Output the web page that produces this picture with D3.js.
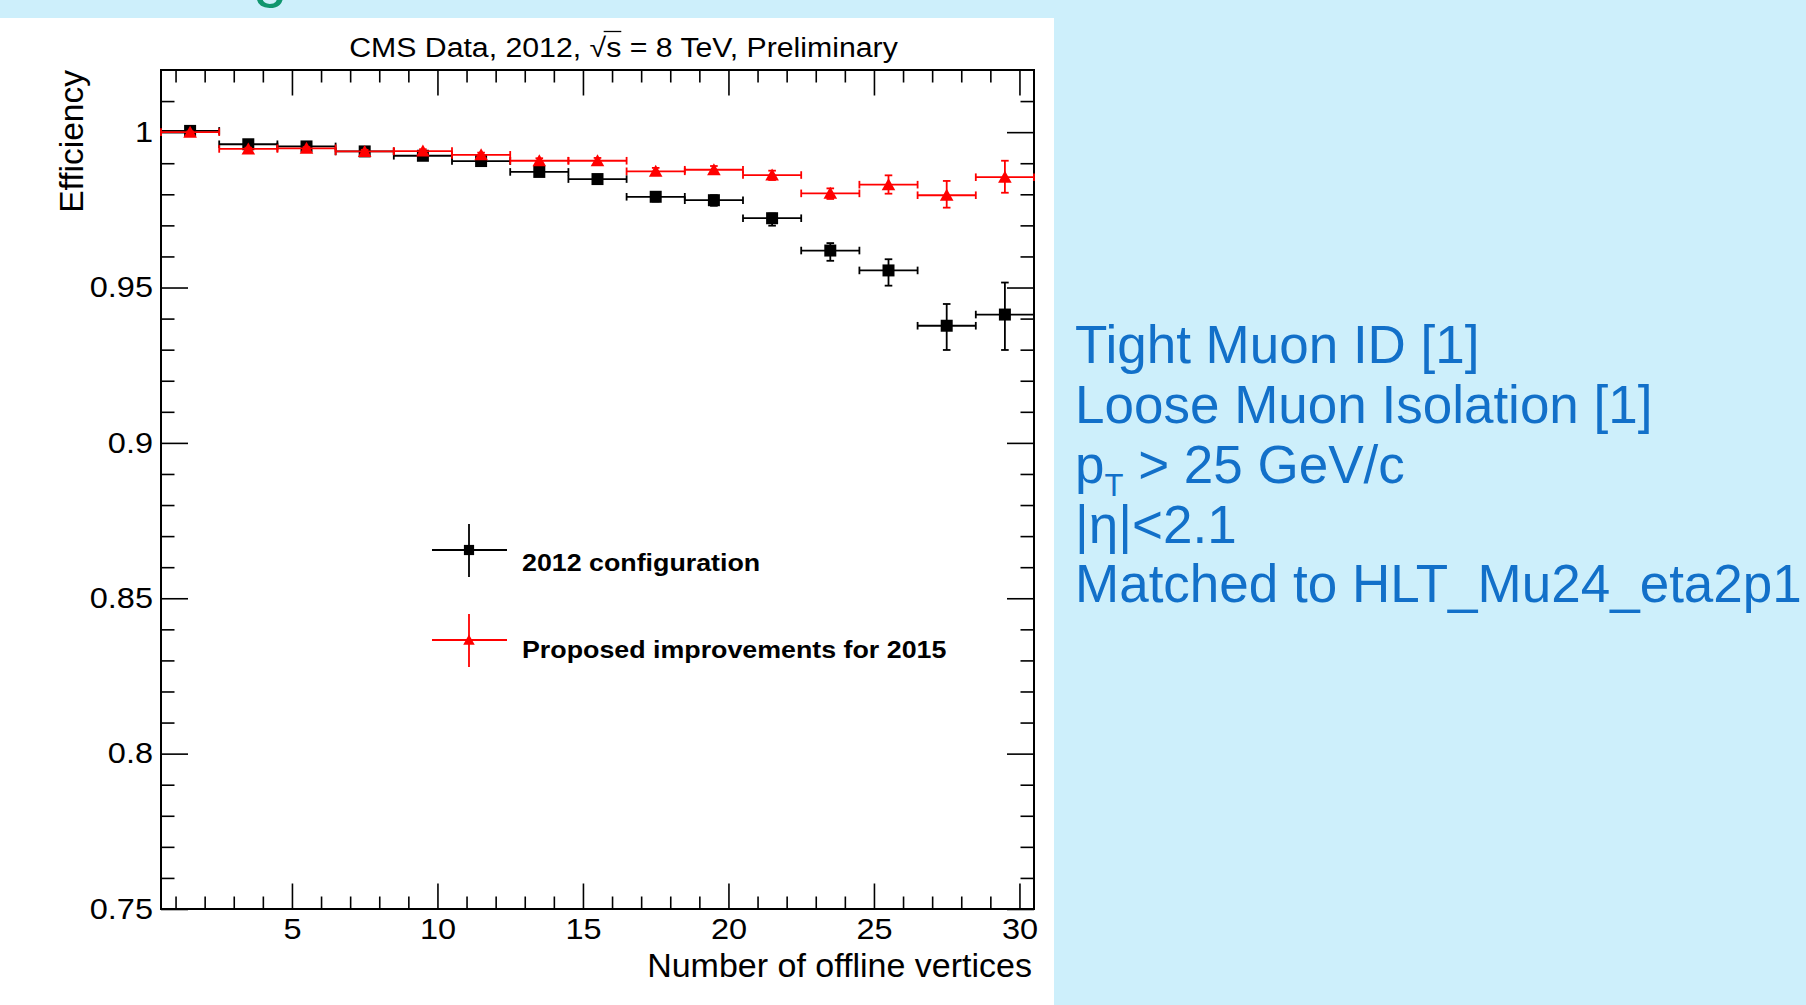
<!DOCTYPE html>
<html>
<head>
<meta charset="utf-8">
<title>Muon efficiency vs number of offline vertices</title>
<script src="https://cdn.jsdelivr.net/npm/d3@7"></script>
<style>
  body { margin: 0; background: #cdeffb; }
  text { font-family: "Liberation Sans", Arial, Helvetica, sans-serif; }
</style>
</head>
<body>
<script>
var width = 1806;
var height = 1005;

// bins of offline vertices (centres, each bin is 2 wide)
var binCenters = [1.5, 3.5, 5.5, 7.5, 9.5, 11.5, 13.5, 15.5, 17.5, 19.5, 21.5, 23.5, 25.5, 27.5, 29.5];
var binHalfWidth = 1;

// 2012 configuration (black squares)
var eff2012     = [1.0004, 0.9961, 0.9954, 0.9938, 0.9924, 0.9907, 0.9872, 0.9849, 0.9792, 0.9781, 0.9723, 0.9619, 0.9555, 0.9377, 0.9413];
var errUp2012   = [0.0003, 0.0005, 0.0005, 0.0006, 0.0007, 0.0008, 0.0010, 0.0012, 0.0014, 0.0016, 0.0015, 0.0024, 0.0036, 0.0070, 0.0103];
var errDown2012 = [0.0004, 0.0006, 0.0006, 0.0007, 0.0008, 0.0009, 0.0011, 0.0013, 0.0015, 0.0018, 0.0024, 0.0033, 0.0049, 0.0078, 0.0114];

// proposed improvements for 2015 (red triangles)
var eff2015     = [1.0000, 0.9946, 0.9948, 0.9938, 0.9939, 0.9927, 0.9908, 0.9908, 0.9874, 0.9879, 0.9862, 0.9803, 0.9831, 0.9797, 0.9855];
var errUp2015   = [0.0002, 0.0004, 0.0004, 0.0005, 0.0006, 0.0007, 0.0008, 0.0009, 0.0011, 0.0012, 0.0014, 0.0016, 0.0030, 0.0046, 0.0053];
var errDown2015 = [0.0003, 0.0005, 0.0005, 0.0006, 0.0007, 0.0008, 0.0009, 0.0010, 0.0012, 0.0014, 0.0016, 0.0018, 0.0029, 0.0040, 0.0050];

// axes
var xMajorTicks = [5, 10, 15, 20, 25, 30];
var xMinorTicks = [1, 2, 3, 4, 6, 7, 8, 9, 11, 12, 13, 14, 16, 17, 18, 19, 21, 22, 23, 24, 26, 27, 28, 29];
var yMajorTicks = [0.75, 0.8, 0.85, 0.9, 0.95, 1];
var yTickLabels = ["0.75", "0.8", "0.85", "0.9", "0.95", "1"];
var yMinorTicks = [0.76, 0.77, 0.78, 0.79, 0.81, 0.82, 0.83, 0.84, 0.86, 0.87, 0.88, 0.89, 0.91, 0.92, 0.93, 0.94, 0.96, 0.97, 0.98, 0.99, 1.01];

var legendLabels = ["2012 configuration", "Proposed improvements for 2015"];
// selection text on the right; a three-part line has a subscript in the middle
var cutLines = [
    ["Tight Muon ID [1]"],
    ["Loose Muon Isolation [1]"],
    ["p", "T", " > 25 GeV/c"],
    ["|\u03b7|<2.1"],
    ["Matched to HLT_Mu24_eta2p1"]
];

var frame = { left: 161, right: 1034, top: 70, bottom: 909 };

var svg = d3.select("body").append("svg")
    .attr("width", width).attr("height", height)
    .style("display", "block");

// slide background
svg.append("rect").attr("width", width).attr("height", height).attr("fill", "#cdeffb");
// descender of the cut-off slide heading
svg.append("text").attr("x", 253).attr("y", -5.5)
    .attr("font-size", 62).attr("fill", "#10966e").text("g");
// white plot canvas
svg.append("rect").attr("x", 0).attr("y", 18).attr("width", 1054).attr("height", height - 18).attr("fill", "#ffffff");

// stretch text horizontally (the pasted ROOT picture is a bit wider than normal)
function stretch(sel, k) {
    sel.each(function () {
        var w = this.getComputedTextLength();
        d3.select(this).attr("textLength", w * k).attr("lengthAdjust", "spacingAndGlyphs");
    });
}

var x = d3.scaleLinear().domain([0.5, 30.5]).range([frame.left, frame.right]);
var y = d3.scaleLinear().domain([0.75, 1.02]).range([frame.bottom, frame.top]);

// ---- axes (ticks inside the frame, on all four sides)
function axisGroup(axis, tx, ty, keepText) {
    var g = svg.append("g").attr("transform", "translate(" + tx + "," + ty + ")").call(axis);
    g.select(".domain").remove();
    g.selectAll("line").attr("stroke", "#000").attr("stroke-width", 1.6);
    if (!keepText) g.selectAll("text").remove();
    g.attr("font-family", null);
    return g;
}

var gxb = axisGroup(d3.axisBottom(x).tickValues(xMajorTicks).tickSizeInner(-25.5).tickSizeOuter(0)
    .tickPadding(9).tickFormat(d3.format("d")), 0, frame.bottom, true);
axisGroup(d3.axisBottom(x).tickValues(xMinorTicks).tickSizeInner(-12.5).tickSizeOuter(0), 0, frame.bottom);
axisGroup(d3.axisTop(x).tickValues(xMajorTicks).tickSizeInner(-25.5).tickSizeOuter(0), 0, frame.top);
axisGroup(d3.axisTop(x).tickValues(xMinorTicks).tickSizeInner(-12.5).tickSizeOuter(0), 0, frame.top);

var gyl = axisGroup(d3.axisLeft(y).tickValues(yMajorTicks).tickSizeInner(-27).tickSizeOuter(0)
    .tickPadding(8).tickFormat(function (d, i) { return yTickLabels[i]; }), frame.left, 0, true);
axisGroup(d3.axisLeft(y).tickValues(yMinorTicks).tickSizeInner(-13.5).tickSizeOuter(0), frame.left, 0);
axisGroup(d3.axisRight(y).tickValues(yMajorTicks).tickSizeInner(-27).tickSizeOuter(0), frame.right, 0);
axisGroup(d3.axisRight(y).tickValues(yMinorTicks).tickSizeInner(-13.5).tickSizeOuter(0), frame.right, 0);

gxb.selectAll("text").attr("font-size", 29).attr("fill", "#000");
gyl.selectAll("text").attr("font-size", 29).attr("fill", "#000");
stretch(gxb.selectAll("text"), 1.12);
stretch(gyl.selectAll("text"), 1.12);

// frame
svg.append("rect")
    .attr("x", frame.left).attr("y", frame.top)
    .attr("width", frame.right - frame.left).attr("height", frame.bottom - frame.top)
    .attr("fill", "none").attr("stroke", "#000").attr("stroke-width", 2);

// axis titles
svg.append("text").attr("x", 1032).attr("y", 977).attr("text-anchor", "end")
    .attr("font-size", 34).text("Number of offline vertices");
svg.append("text").attr("transform", "translate(83," + frame.top + ") rotate(-90)")
    .attr("text-anchor", "end").attr("font-size", 33.5).text("Efficiency");

// title with sqrt(s)
var title = svg.append("text").attr("x", 623.5).attr("y", 57).attr("text-anchor", "middle")
    .attr("font-size", 27).text("CMS Data, 2012, \u221As = 8 TeV, Preliminary");
stretch(title, 1.12);
(function () {
    var n = title.node();
    var r = n.getExtentOfChar(16), s = n.getExtentOfChar(17);
    svg.append("line")
        .attr("x1", r.x + r.width * 0.85).attr("x2", s.x + s.width)
        .attr("y1", 57 - 25.5).attr("y2", 57 - 25.5)
        .attr("stroke", "#000").attr("stroke-width", 1.3);
})();

// ---- data points with asymmetric errors
var capHalf = 3.8;
function drawSeries(vals, up, down, color, markerPath) {
    var pts = binCenters.map(function (c, i) {
        return { c: c, v: vals[i], up: up[i], down: down[i] };
    });
    var g = svg.append("g").attr("stroke", color).attr("stroke-width", 1.8).attr("fill", "none");
    var p = g.selectAll("g").data(pts).enter().append("g");
    // horizontal bin-width bars and caps
    p.append("line")
        .attr("x1", function (d) { return x(d.c - binHalfWidth); })
        .attr("x2", function (d) { return x(d.c + binHalfWidth); })
        .attr("y1", function (d) { return y(d.v); })
        .attr("y2", function (d) { return y(d.v); });
    [-1, 1].forEach(function (side) {
        p.append("line")
            .attr("x1", function (d) { return x(d.c + side * binHalfWidth); })
            .attr("x2", function (d) { return x(d.c + side * binHalfWidth); })
            .attr("y1", function (d) { return y(d.v) - capHalf; })
            .attr("y2", function (d) { return y(d.v) + capHalf; });
    });
    // vertical error bars and caps
    p.append("line")
        .attr("x1", function (d) { return x(d.c); })
        .attr("x2", function (d) { return x(d.c); })
        .attr("y1", function (d) { return y(d.v + d.up); })
        .attr("y2", function (d) { return y(d.v - d.down); });
    p.append("line")
        .attr("x1", function (d) { return x(d.c) - capHalf; })
        .attr("x2", function (d) { return x(d.c) + capHalf; })
        .attr("y1", function (d) { return y(d.v + d.up); })
        .attr("y2", function (d) { return y(d.v + d.up); });
    p.append("line")
        .attr("x1", function (d) { return x(d.c) - capHalf; })
        .attr("x2", function (d) { return x(d.c) + capHalf; })
        .attr("y1", function (d) { return y(d.v - d.down); })
        .attr("y2", function (d) { return y(d.v - d.down); });
    // markers
    svg.append("g").selectAll("path").data(pts).enter().append("path")
        .attr("d", markerPath)
        .attr("transform", function (d) { return "translate(" + x(d.c) + "," + y(d.v) + ")"; })
        .attr("fill", color);
}

var squarePath = "M-6,-6H6V6H-6Z";
var trianglePath = "M0,-6.5L6.8,5.5H-6.8Z";

drawSeries(eff2012, errUp2012, errDown2012, "#000000", squarePath);
drawSeries(eff2015, errUp2015, errDown2015, "#ff0000", trianglePath);

// ---- legend
var legendColors = ["#000000", "#ff0000"];
var legendMarkers = [squarePath, trianglePath];
var legendRowY = [550, 640];
var legendTextDy = [21, 18];
legendLabels.forEach(function (lab, i) {
    var cx = 469, cy = legendRowY[i];
    var g = svg.append("g");
    g.append("line").attr("x1", cx - 37).attr("x2", cx + 38).attr("y1", cy).attr("y2", cy)
        .attr("stroke", legendColors[i]).attr("stroke-width", 1.8);
    g.append("line").attr("x1", cx).attr("x2", cx).attr("y1", cy - 26).attr("y2", cy + 27)
        .attr("stroke", legendColors[i]).attr("stroke-width", 1.8);
    g.append("path").attr("d", legendMarkers[i]).attr("transform", "translate(" + cx + "," + cy + ") scale(0.85)")
        .attr("fill", legendColors[i]);
    var t = g.append("text").attr("x", 522).attr("y", cy + legendTextDy[i])
        .attr("font-size", 23.3).attr("font-weight", "bold").text(lab);
    stretch(t, 1.15);
});

// ---- selection text on the right
var cutText = svg.append("g").attr("fill", "#1270c9").attr("font-size", 53);
cutLines.forEach(function (parts, i) {
    var t = cutText.append("text").attr("x", 1075).attr("y", 363.3 + i * 59.75);
    if (parts.length === 3) {
        t.append("tspan").text(parts[0]);
        t.append("tspan").attr("font-size", 31).attr("dy", 12.7).text(parts[1]);
        t.append("tspan").attr("dy", -12.7).text(parts[2]);
    } else {
        t.text(parts[0]);
    }
});
</script>
</body>
</html>
